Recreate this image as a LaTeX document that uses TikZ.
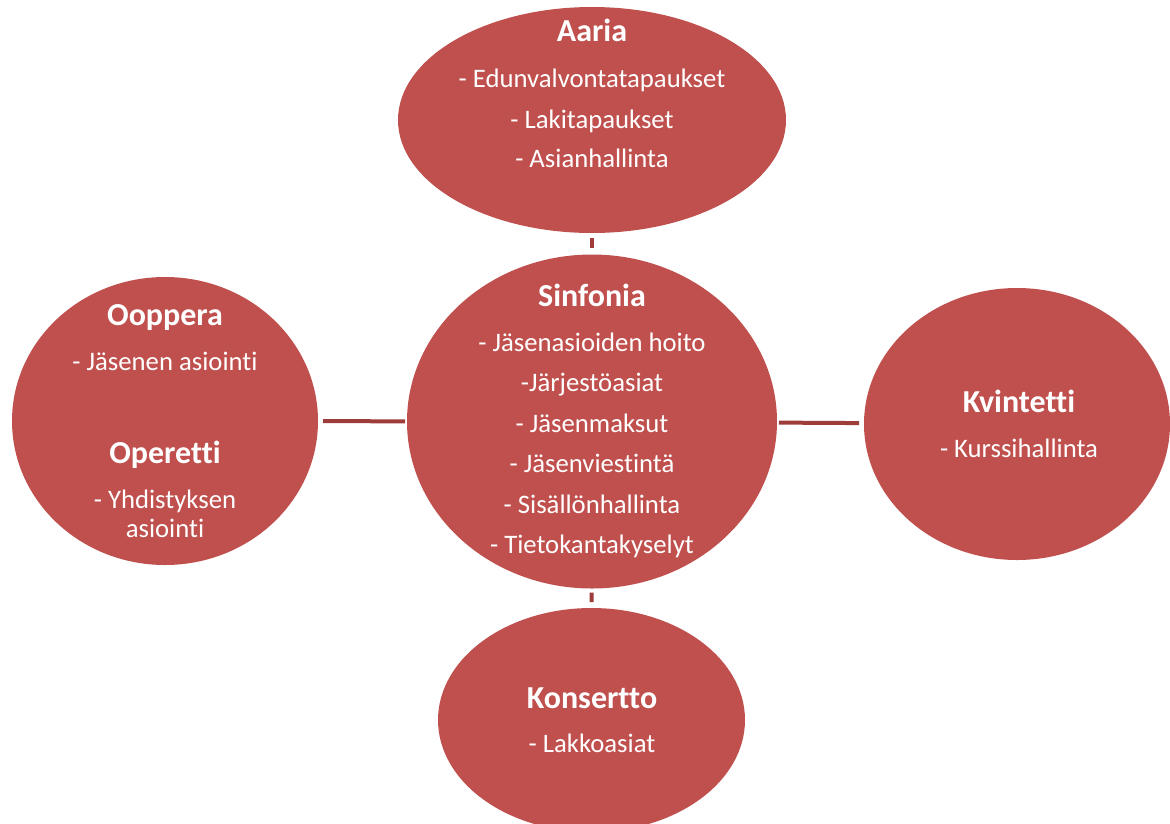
\documentclass[tikz,border=0pt]{standalone}
\usepackage{fontspec}
\setmainfont{Carlito}[Ligatures=NoCommon]
\usetikzlibrary{shapes.geometric}
\definecolor{bubble}{HTML}{C0504D}
\definecolor{link}{HTML}{9E3C39}
\tikzset{
  bub/.style={ellipse, fill=bubble, draw=none, inner sep=0pt, outer sep=0pt},
  ttl/.style={anchor=base, text=white, font=\fontsize{32}{34}\selectfont\bfseries, inner sep=0pt},
  itm/.style={anchor=base, text=white, font=\fontsize{26.7}{28}\selectfont, inner sep=0pt},
  conn/.style={draw=link, line width=4pt}
}
\begin{document}
\begin{tikzpicture}[x=1pt,y=-1pt]
\useasboundingbox (0,0) rectangle (1170,823);
% bubbles
\node[bub, minimum width=388pt, minimum height=226pt] (aaria) at (592,120) {};
\node[bub, minimum width=370pt, minimum height=334pt] (sinf) at (592,421.5) {};
\node[bub, minimum width=306pt, minimum height=288pt] (oop) at (165,421) {};
\node[bub, minimum width=306pt, minimum height=272pt] (kvin) at (1017,424) {};
\node[bub, minimum width=307pt, minimum height=224pt] (kons) at (591.5,720) {};
% connectors
\draw[conn, shorten <=5pt, shorten >=7pt] (aaria) -- (sinf);
\draw[conn, shorten <=5pt, shorten >=2pt] (oop) -- (sinf);
\draw[conn, shorten <=2pt, shorten >=5pt] (sinf) -- (kvin);
\draw[conn, shorten <=4pt, shorten >=6pt] (sinf) -- (kons);
% Aaria
\node[ttl] (aT) at (592,41) {Aaria};
\node[itm] (a1) at (592,87) {- Edunvalvontatapaukset};
\node[itm] (a2) at (592,128) {- Lakitapaukset};
\node[itm] (a3) at (592,167) {- Asianhallinta};
% Sinfonia
\node[ttl] (sT) at (592,306) {Sinfonia};
\node[itm] (s1) at (592,351) {- Jäsenasioiden hoito};
\node[itm] (s2) at (592,391) {-Järjestöasiat};
\node[itm] (s3) at (592,432) {- Jäsenmaksut};
\node[itm] (s4) at (592,472) {- Jäsenviestintä};
\node[itm] (s5) at (592,513) {- Sisällönhallinta};
\node[itm] (s6) at (592,553) {- Tietokantakyselyt};
% Ooppera / Operetti
\node[ttl] (oT) at (165,325) {Ooppera};
\node[itm] (o1) at (165,370) {- Jäsenen asiointi};
\node[ttl] (pT) at (165,463) {Operetti};
\node[itm] (p1) at (165,508) {- Yhdistyksen};
\node[itm] (p2) at (165,537) {asiointi};
% Kvintetti
\node[ttl] (kT) at (1019,412) {Kvintetti};
\node[itm] (k1) at (1019,457) {- Kurssihallinta};
% Konsertto
\node[ttl] (nT) at (592,708) {Konsertto};
\node[itm] (n1) at (592,752) {- Lakkoasiat};
\end{tikzpicture}
\end{document}
